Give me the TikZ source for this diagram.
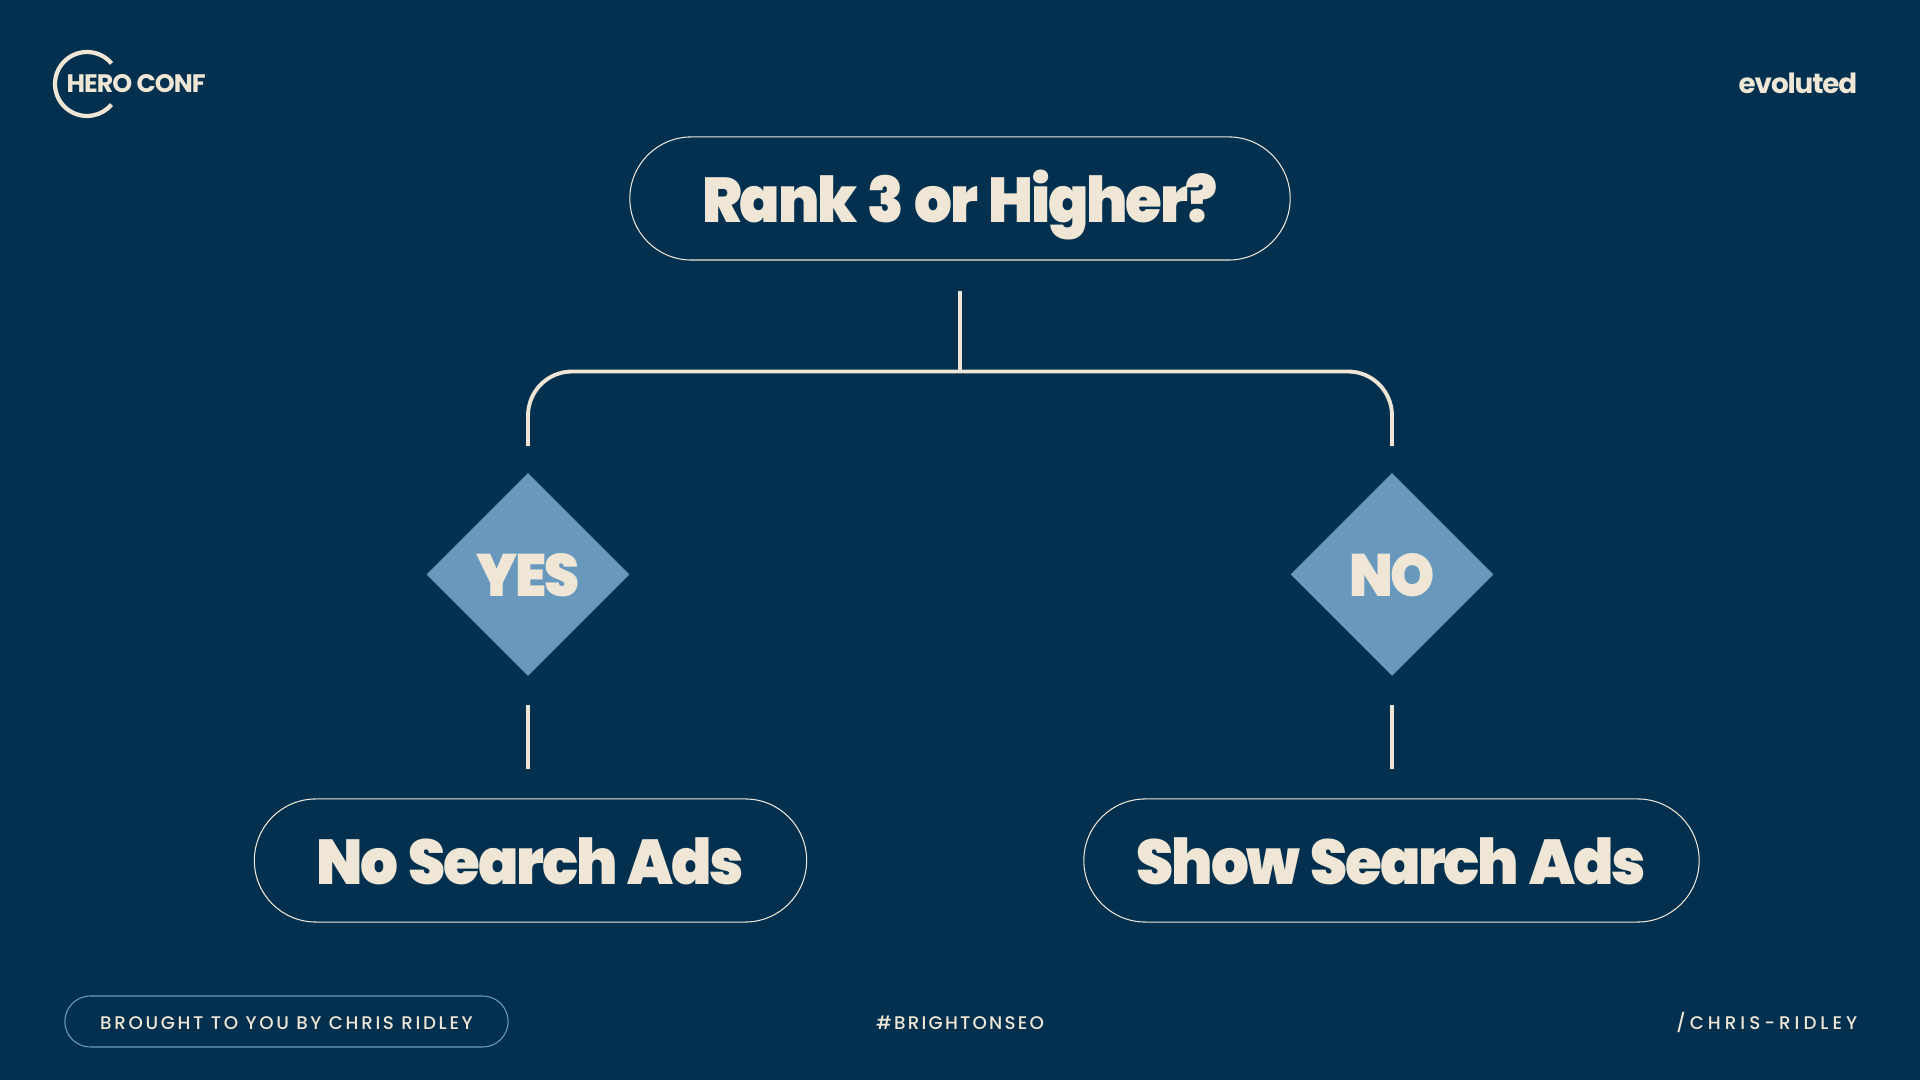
\documentclass[tikz,border=0pt]{standalone}
\usepackage{fontspec}
\setmainfont{Poppins}
\newfontfamily\headfont[LetterSpace=-3.5,FakeStretch=0.94,WordSpace=1.3]{Poppins Black}
\newfontfamily\logofont[LetterSpace=-4]{Poppins Bold}
\newfontfamily\footfont[LetterSpace=12]{Poppins Medium}
\newfontfamily\creditfont[LetterSpace=14.5]{Poppins Medium}
\newfontfamily\handlefont[LetterSpace=22]{Poppins Medium}
\usetikzlibrary{positioning,shapes.geometric,shapes.misc}
\definecolor{navybg}{HTML}{02304E}
\definecolor{cream}{HTML}{EFE6D6}
\definecolor{steel}{HTML}{6899BD}
\definecolor{footline}{HTML}{6E9DB8}

\begin{document}
\begin{tikzpicture}[
  x=0.01cm, y=-0.01cm,
  pill/.style={rounded rectangle, draw=cream, line width=0.3pt, text=cream, minimum height=12.3mm, inner sep=0pt, text height=13.6pt, text depth=0pt, font=\headfont\fontsize{18}{20}\selectfont},
  decision/.style={diamond, aspect=1, fill=steel, text=cream, minimum width=20.3mm, minimum height=20.3mm, inner sep=0pt, text height=12.6pt, text depth=0pt, font=\headfont\fontsize{17}{19}\selectfont},
  link/.style={draw=cream, line width=1.1pt},
  foot/.style={text=cream, inner sep=0pt, text height=4.4pt, text depth=0pt}
]
\fill[navybg] (0,0) rectangle (1920,1080);

\node[pill, minimum width=66mm] (rank) at (960,198.5) {Rank 3 or Higher?};
\node[decision] (yes) at (528,574.5) {YES};
\node[decision] (no) at (1392,574.5) {NO};
\node[pill, minimum width=55.2mm] (noads) at (530.5,860.5) {No Search Ads};
\node[pill, minimum width=61.5mm] (showads) at (1391.5,860.5) {Show Search Ads};
\coordinate (split) at (960,371.5);
\coordinate[above=2.6mm of yes] (yestop);
\coordinate[above=2.6mm of no] (notop);

\draw[link, shorten <=3mm] (rank.south) -- (split);
\draw[link, rounded corners=4.4mm] (yestop) |- (split) -| (notop);
\draw[link, shorten <=2.8mm, shorten >=2.9mm] (yes.south) -- (yes.south |- noads.north);
\draw[link, shorten <=2.8mm, shorten >=2.9mm] (no.south) -- (no.south |- showads.north);

% logos
\coordinate (ringc) at (87,84);
\draw[cream, line width=1.2pt] (ringc) ++(-40:32) arc (-40:-320:32);
\node[anchor=west, inner sep=0pt, text=cream, text height=5.1pt, text depth=0pt, font=\logofont\fontsize{7.2}{9}\selectfont] (hero) at (66,84) {HERO CONF};
\node[anchor=east, inner sep=0pt, text=cream, font=\logofont\fontsize{7.9}{10}\selectfont] (evoluted) at (1858,83) {evoluted};

% footer
\node[rounded rectangle, draw=footline, line width=0.3pt, minimum width=44.3mm, minimum height=5.1mm, inner sep=0pt] (credit) at (286.5,1021.5) {};
\node[foot, font=\creditfont\fontsize{5.2}{7}\selectfont] (credittext) at (credit) {BROUGHT TO YOU BY CHRIS RIDLEY};
\node[foot, font=\footfont\fontsize{5.2}{7}\selectfont] (tag) at (960,1021.5) {\#BRIGHTONSEO};
\node[foot, anchor=east, font=\handlefont\fontsize{5.2}{7}\selectfont] (handle) at (1858,1021.5) {/CHRIS-RIDLEY};
\end{tikzpicture}
\end{document}
